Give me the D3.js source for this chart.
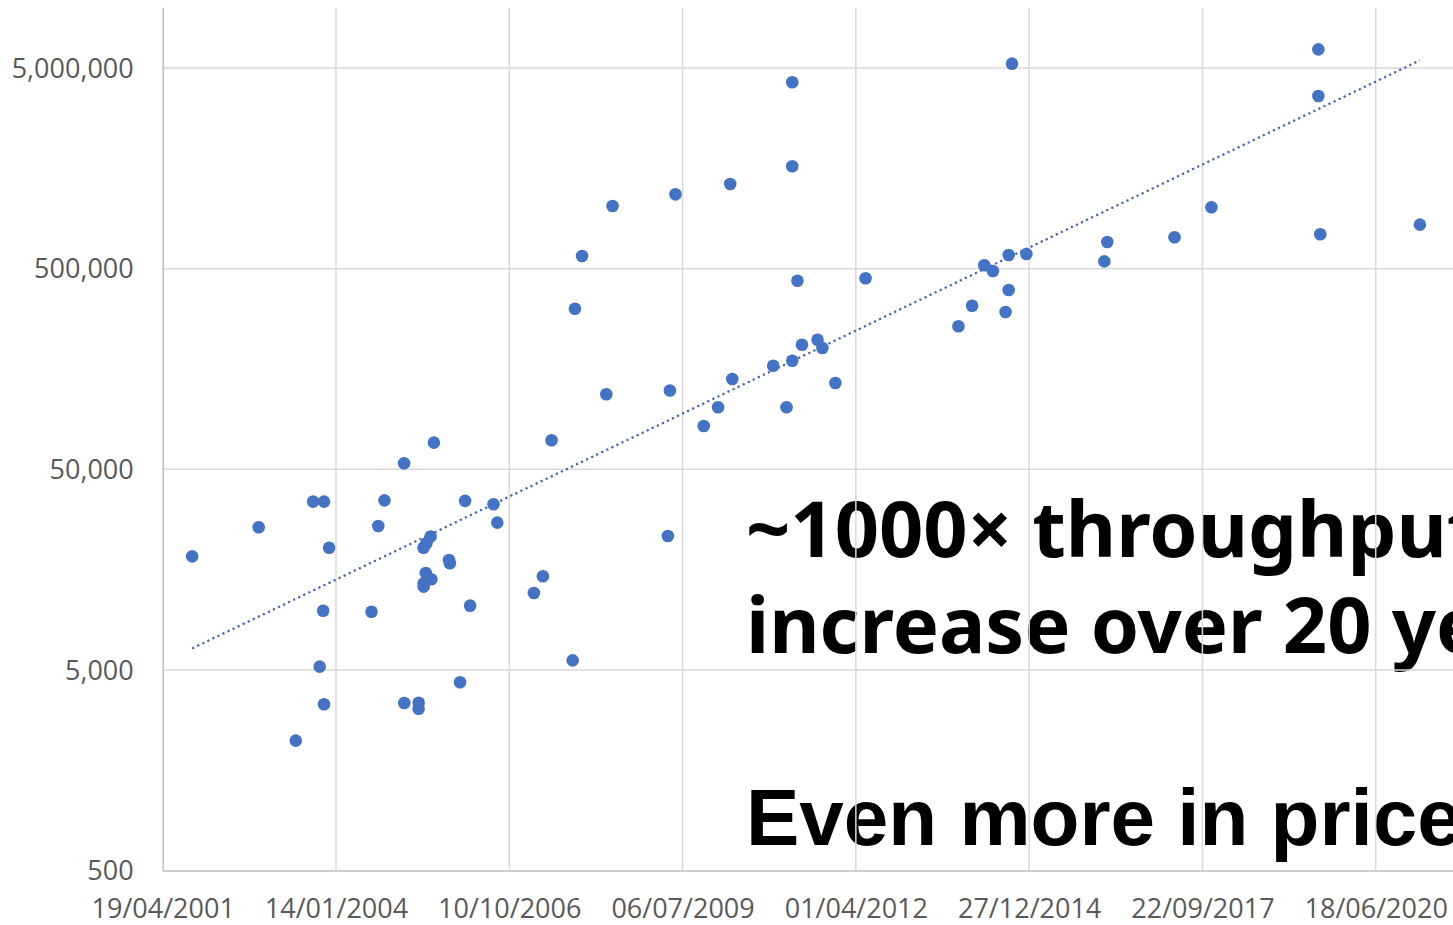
<!DOCTYPE html>
<html>
<head>
<meta charset="utf-8">
<script src="https://cdn.jsdelivr.net/npm/d3@7"></script>
<style>
  html, body { margin: 0; padding: 0; background: #fff; overflow: hidden; }
</style>
</head>
<body>
<div id="chart"></div>
<script>
// Release dates and throughput values
const releaseDates = [
  '2001-10-06', '2002-10-25', '2003-05-27', '2003-09-04', '2003-10-12', '2003-11-01',
  '2003-11-06', '2003-11-06', '2003-12-05', '2004-08-06', '2004-09-14', '2004-10-20',
  '2005-02-10', '2005-02-11', '2005-05-05', '2005-05-05', '2005-06-02', '2005-06-19',
  '2005-07-13', '2005-06-15', '2005-07-17', '2005-06-03', '2005-06-03', '2005-08-01',
  '2005-10-27', '2005-11-01', '2005-12-30', '2006-01-28', '2006-02-26', '2006-07-11',
  '2006-08-02', '2007-03-01', '2007-04-22', '2007-06-11', '2007-10-11', '2007-10-24',
  '2007-12-04', '2008-04-22', '2008-05-28', '2009-04-12', '2009-04-24', '2009-05-26',
  '2009-11-05', '2010-01-27', '2010-04-07', '2010-04-19', '2010-12-11', '2011-02-26',
  '2011-03-31', '2011-03-31', '2011-03-31', '2011-04-30', '2011-05-26', '2011-08-24',
  '2011-09-21', '2011-12-05', '2012-05-27', '2013-11-14', '2014-02-01', '2014-04-12',
  '2014-06-01', '2014-08-13', '2014-08-31', '2014-08-31', '2014-09-19', '2014-12-11',
  '2016-03-05', '2016-03-22', '2017-04-14', '2017-11-13', '2019-07-23', '2019-07-23',
  '2019-08-03', '2021-02-28'
];

const throughput = [
  18400, 25700, 2220, 34500, 5190, 9860,
  34500, 3370, 20300, 9750, 26100, 35000,
  53600, 3420, 3430, 3200, 20300, 21400,
  23100, 15200, 14150, 13500, 13000, 67900,
  17650, 17000, 4340, 34800, 10450, 33500,
  27100, 12080, 14640, 69800, 5580, 315900,
  578000, 118300, 1027000, 23250, 123500, 1174000,
  82200, 101900, 1322000, 141000, 164200, 101900,
  4250000, 1620000, 173900, 435600, 209000, 221300,
  201200, 134600, 447800, 258200, 327000, 520000,
  487000, 304000, 585000, 391500, 5260000, 592000,
  544000, 679000, 717000, 1012000, 6200000, 3630000,
  742000, 829000
];

// Axis tick labels (date axis, major unit 1000 days)
const xTickLabels = ['19/04/2001', '14/01/2004', '10/10/2006', '06/07/2009',
                     '01/04/2012', '27/12/2014', '22/09/2017', '18/06/2020'];
const yTickValues = [500, 5000, 50000, 500000, 5000000];

const annotationLines = ['~1000\u00d7 throughput', 'increase over 20 years'];
const annotationFooter = 'Even more in price';

// --- setup
const W = 1453, H = 925;
const plot = { left: 162.7, top: 7.7, bottom: 870.5, right: 1549 };

const svg = d3.select('#chart').append('svg')
  .attr('width', W)
  .attr('height', H)
  .style('font-family', '"Open Sans", sans-serif');

const parseIso = d3.utcParse('%Y-%m-%d');
const parseTick = d3.utcParse('%d/%m/%Y');
const fmtTick = d3.utcFormat('%d/%m/%Y');

const data = releaseDates.map((d, i) => ({ date: parseIso(d), value: throughput[i] }));
const tickDates = xTickLabels.map(parseTick);

// --- scales
const axisStart = tickDates[0];
const xScale = d3.scaleUtc()
  .domain([axisStart, d3.utcDay.offset(axisStart, 8000)])
  .range([plot.left, plot.right]);

const yScale = d3.scaleLog()
  .domain([500, 10000000])
  .range([plot.bottom, plot.top]);

// --- annotation text (sits under the gridlines, like in the slide)
const note = svg.append('g').attr('fill', '#000');
note.selectAll('text.line')
  .data(annotationLines)
  .enter()
  .append('text')
  .attr('class', 'line')
  .attr('x', 746)
  .attr('y', (d, i) => 557 + i * 96)
  .style('font-family', '"Noto Sans", "Open Sans", sans-serif')
  .style('font-weight', 700)
  .style('font-size', '77.5px')
  .text(d => d);

note.append('text')
  .attr('x', 746)
  .attr('y', 845)
  .style('font-family', '"Liberation Sans", Arial, sans-serif')
  .style('font-weight', 700)
  .style('font-size', '80px')
  .text(annotationFooter);

// --- gridlines
const grid = svg.append('g').attr('stroke', '#d9d9d9').attr('stroke-width', 1.5);
grid.selectAll('line.h')
  .data(yTickValues.slice(1))
  .enter()
  .append('line')
  .attr('x1', plot.left).attr('x2', W)
  .attr('y1', d => yScale(d)).attr('y2', d => yScale(d));

grid.selectAll('line.v')
  .data(tickDates.slice(1))
  .enter()
  .append('line')
  .attr('x1', d => xScale(d)).attr('x2', d => xScale(d))
  .attr('y1', plot.top).attr('y2', plot.bottom);

// --- axes
const xAxis = svg.append('g')
  .attr('transform', `translate(0,${plot.bottom})`)
  .call(d3.axisBottom(xScale).tickValues(tickDates).tickFormat(fmtTick).tickSize(0).tickPadding(28));

const yAxis = svg.append('g')
  .attr('transform', `translate(${plot.left},0)`)
  .call(d3.axisLeft(yScale).tickValues(yTickValues).tickFormat(d3.format(',')).tickSize(0).tickPadding(29));

[xAxis, yAxis].forEach(ax => {
  ax.select('.domain').attr('stroke', '#bfbfbf').attr('stroke-width', 1.5);
  ax.selectAll('text')
    .attr('fill', '#595959')
    .style('font-family', '"Open Sans", sans-serif')
    .style('font-size', '27px');
});
yAxis.selectAll('text').attr('dy', '0.34em');
xAxis.select('.domain').attr('d', `M${plot.left},0.5H${W}`);
yAxis.select('.domain').attr('d', `M0.5,${plot.top}V${plot.bottom}`);

// --- exponential trendline (least squares on log10 values)
const t0 = +axisStart;
const xs = data.map(d => (+d.date - t0) / 864e5);
const ys = data.map(d => Math.log10(d.value));
const mx = d3.mean(xs), my = d3.mean(ys);
const slope = d3.sum(xs, (x, i) => (x - mx) * (ys[i] - my)) / d3.sum(xs, x => (x - mx) * (x - mx));
const intercept = my - slope * mx;
const [dMin, dMax] = d3.extent(data, d => d.date);
const trend = [dMin, dMax].map(d => ({
  date: d,
  value: Math.pow(10, intercept + slope * (+d - t0) / 864e5)
}));

svg.append('path')
  .datum(trend)
  .attr('fill', 'none')
  .attr('stroke', '#3f63b0')
  .attr('stroke-width', 2.2)
  .attr('stroke-dasharray', '2.2,3.4')
  .attr('d', d3.line().x(d => xScale(d.date)).y(d => yScale(d.value)));

// --- points
svg.append('g')
  .selectAll('circle')
  .data(data)
  .enter()
  .append('circle')
  .attr('cx', d => xScale(d.date))
  .attr('cy', d => yScale(d.value))
  .attr('r', 6.3)
  .attr('fill', '#4472c4');
</script>
</body>
</html>
